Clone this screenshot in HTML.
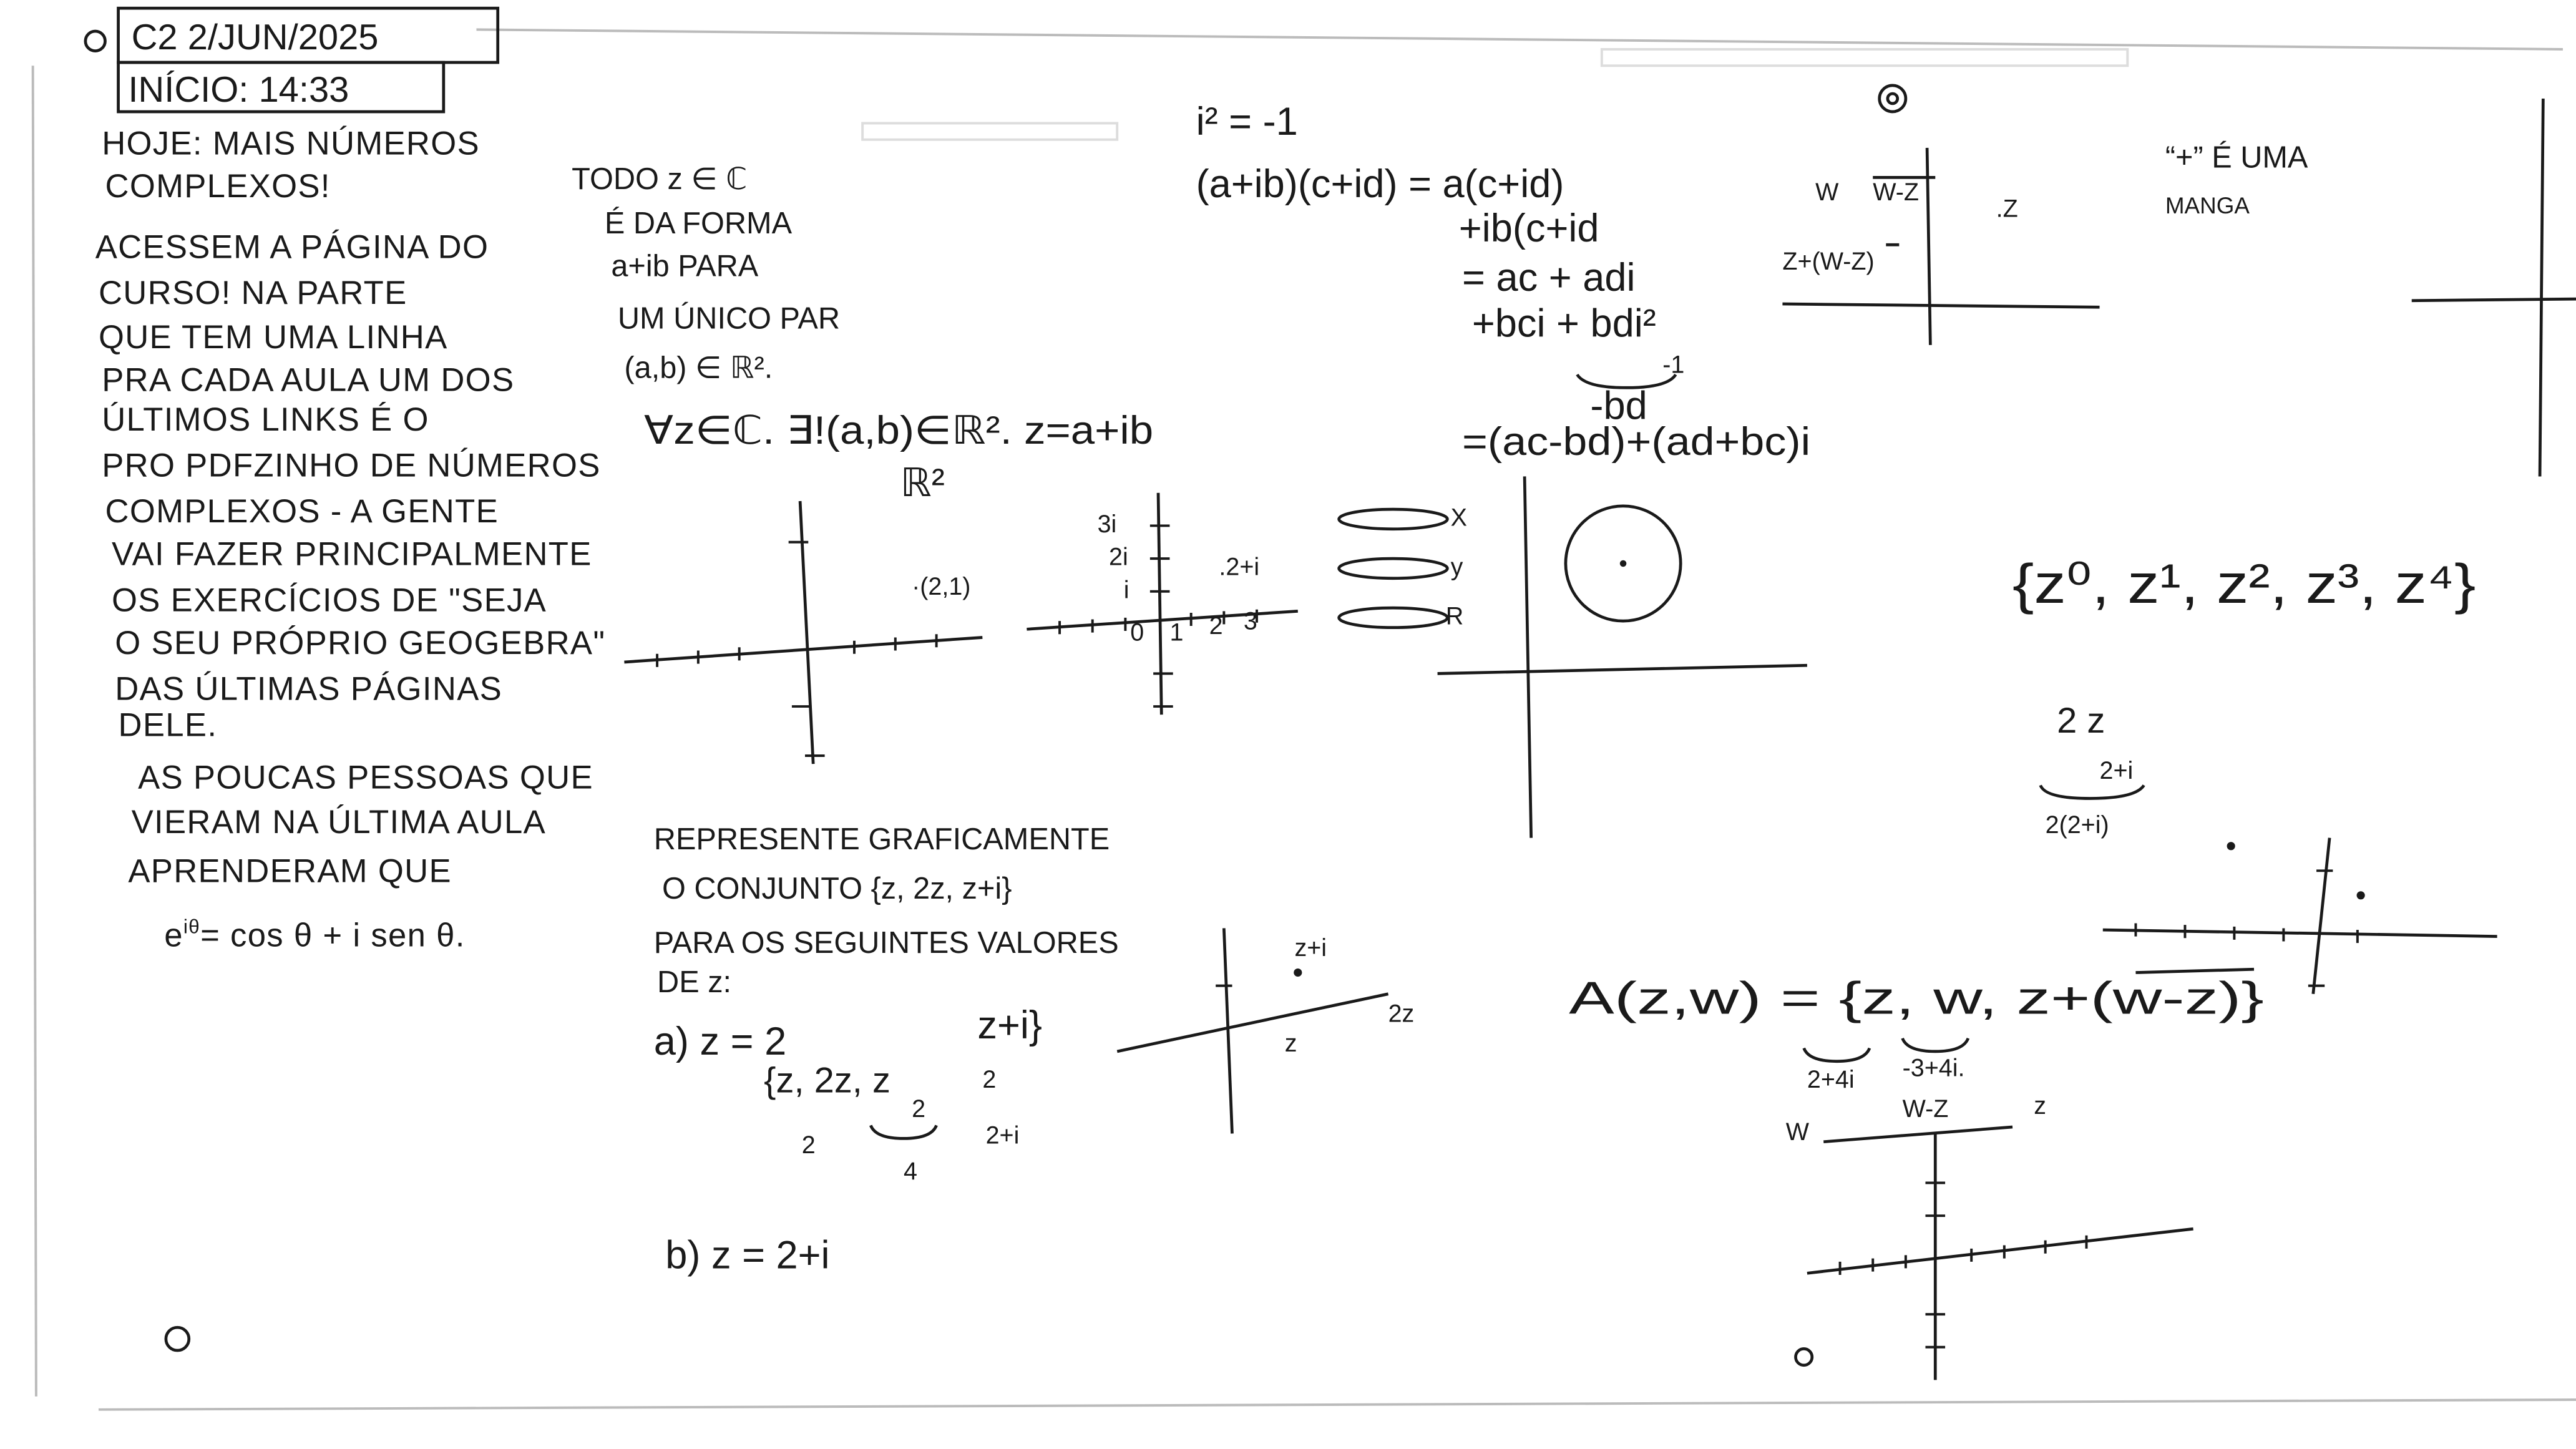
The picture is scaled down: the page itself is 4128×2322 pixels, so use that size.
<!DOCTYPE html>
<html><head><meta charset="utf-8"><style>
html,body{margin:0;padding:0;background:#fff;}
svg{display:block}
text{font-family:"Liberation Sans",sans-serif;fill:#1a1a1a;}
</style></head><body>
<svg width="4128" height="2322" viewBox="0 0 1568 882" xmlns="http://www.w3.org/2000/svg">
<rect width="1568" height="882" fill="#fff"/>
<g stroke="#bbb" stroke-width="1.5" fill="none">
<line x1="290" y1="18" x2="1560" y2="30"/>
<line x1="60" y1="858" x2="1568" y2="852"/>
<line x1="20" y1="40" x2="22" y2="850"/>
<rect x="525" y="75" width="155" height="10" stroke="#ddd"/>
<rect x="975" y="30" width="320" height="10" stroke="#ddd"/>
</g>
<g stroke="#1a1a1a" stroke-width="1.8" fill="none">
<rect x="72" y="5" width="231" height="33"/>
<rect x="72" y="38" width="198" height="30"/>
<circle cx="58" cy="25" r="6"/>
<circle cx="108" cy="815" r="7"/>
<circle cx="1098" cy="826" r="5"/>
<circle cx="1152" cy="60" r="8"/><circle cx="1152" cy="60" r="3"/>
<line x1="380" y1="403" x2="598" y2="388"/><line x1="487" y1="305" x2="495" y2="465"/>
<line x1="625" y1="383" x2="790" y2="372"/><line x1="705" y1="300" x2="707" y2="435"/>
<ellipse cx="848" cy="316" rx="33" ry="6"/><ellipse cx="848" cy="346" rx="33" ry="6"/><ellipse cx="848" cy="376" rx="33" ry="6"/>
<line x1="928" y1="290" x2="932" y2="510"/><line x1="875" y1="410" x2="1100" y2="405"/>
<circle cx="988" cy="343" r="35"/>
<line x1="1173" y1="90" x2="1175" y2="210"/><line x1="1085" y1="185" x2="1278" y2="187"/>
<line x1="1140" y1="108" x2="1178" y2="108"/><line x1="1148" y1="149" x2="1156" y2="149"/>
<line x1="1548" y1="60" x2="1546" y2="290"/><line x1="1468" y1="183" x2="1568" y2="182"/>
<line x1="1280" y1="566" x2="1520" y2="570"/><line x1="1418" y1="510" x2="1408" y2="605"/>
<line x1="680" y1="640" x2="845" y2="605"/><line x1="745" y1="565" x2="750" y2="690"/>
<line x1="1178" y1="690" x2="1178" y2="840"/><line x1="1100" y1="775" x2="1335" y2="748"/>
<line x1="1110" y1="695" x2="1225" y2="686"/>
<line x1="1300" y1="592" x2="1372" y2="590"/>
<path d="M960 228 q5 8 30 8 q25 0 30 -8"/>
<path d="M1242 478 q3 8 30 8 q28 0 33 -8"/>
<path d="M1098 638 q3 8 20 8 q17 0 20 -8"/>
<path d="M1158 632 q3 8 20 8 q17 0 20 -8"/>
<path d="M530 685 q3 8 20 8 q17 0 20 -8"/>
</g>
<g stroke="#1a1a1a" stroke-width="1.5">
<path d="M400 398v8M425 396v8M450 394v8M520 390v8M545 388v8M570 386v8M480 330h12M482 430h12M490 460h12"/>
<path d="M645 378v8M665 377v8M685 376v8M725 373v8M745 372v8M765 371v8M700 320h12M700 340h12M700 360h12M702 410h12M702 430h12"/>
<path d="M1120 768v8M1140 766v8M1160 764v8M1200 760v8M1220 758v8M1245 755v8M1270 752v8M1172 720h12M1172 740h12M1172 800h12M1172 820h12"/>
<path d="M1300 562v8M1330 563v8M1360 564v8M1390 565v8M1435 566v8M1410 530h10M1405 600h10M740 600h10"/>
</g>
<g fill="#1a1a1a"><circle cx="1358" cy="515" r="2.5"/><circle cx="1437" cy="545" r="2.5"/><circle cx="988" cy="343" r="2"/><circle cx="790" cy="592" r="2.5"/></g>
<g font-size="22">
<text x="80" y="30">C2  2/JUN/2025</text>
<text x="78" y="62">INÍCIO: 14:33</text>
</g>
<g font-size="20" letter-spacing="0.5">
<text x="62" y="94">HOJE: MAIS NÚMEROS</text>
<text x="64" y="120">COMPLEXOS!</text>
<text x="58" y="157">ACESSEM A PÁGINA DO</text>
<text x="60" y="185">CURSO!  NA PARTE</text>
<text x="60" y="212">QUE TEM UMA LINHA</text>
<text x="62" y="238">PRA CADA AULA UM DOS</text>
<text x="62" y="262">ÚLTIMOS LINKS É O</text>
<text x="62" y="290">PRO PDFZINHO DE NÚMEROS</text>
<text x="64" y="318">COMPLEXOS - A GENTE</text>
<text x="68" y="344">VAI FAZER PRINCIPALMENTE</text>
<text x="68" y="372">OS EXERCÍCIOS DE "SEJA</text>
<text x="70" y="398">O SEU PRÓPRIO GEOGEBRA"</text>
<text x="70" y="426">DAS ÚLTIMAS PÁGINAS</text>
<text x="72" y="448">DELE.</text>
<text x="84" y="480">AS POUCAS PESSOAS QUE</text>
<text x="80" y="507">VIERAM NA ÚLTIMA AULA</text>
<text x="78" y="537">APRENDERAM QUE</text>
<text x="100" y="576">e<tspan font-size="12" dy="-8">iθ</tspan><tspan dy="8">= cos θ + i sen θ.</tspan></text>
</g>
<g font-size="18.5">
<text x="348" y="115">TODO z ∈ ℂ</text>
<text x="368" y="142">É DA FORMA</text>
<text x="372" y="168">a+ib PARA</text>
<text x="376" y="200">UM ÚNICO PAR</text>
<text x="380" y="230">(a,b) ∈ ℝ².</text>
<text x="398" y="517">REPRESENTE GRAFICAMENTE</text>
<text x="403" y="547">O CONJUNTO {z, 2z, z+i}</text>
<text x="398" y="580">PARA OS SEGUINTES VALORES</text>
<text x="400" y="604">DE z:</text>
<text x="1318" y="102">“+” É UMA</text>
<text x="1318" y="130" font-size="14">MANGA</text>
</g>
<g font-size="24">
<text x="392" y="270" textLength="310" lengthAdjust="spacingAndGlyphs">∀z∈ℂ. ∃!(a,b)∈ℝ². z=a+ib</text>
<text x="548" y="302">ℝ²</text>
<text x="728" y="82">i² = -1</text>
<text x="728" y="120">(a+ib)(c+id) = a(c+id)</text>
<text x="888" y="147">+ib(c+id</text>
<text x="890" y="177">= ac + adi</text>
<text x="896" y="205">+bci + bdi²</text>
<text x="968" y="255">-bd</text>
<text x="890" y="277" textLength="212" lengthAdjust="spacingAndGlyphs">=(ac-bd)+(ad+bc)i</text>
<text x="398" y="642">a)  z = 2</text>
<text x="595" y="632">z+i}</text>
<text x="405" y="772">b) z = 2+i</text>
</g>
<g font-size="15">
<text x="555" y="362">·(2,1)</text>
<text x="668" y="324">3i</text><text x="675" y="344">2i</text><text x="684" y="364">i</text>
<text x="688" y="390">0</text><text x="712" y="390">1</text><text x="736" y="386">2</text><text x="757" y="383">3</text>
<text x="742" y="350">.2+i</text>
<text x="883" y="320">X</text><text x="883" y="350">y</text><text x="880" y="380">R</text>
<text x="1012" y="227">-1</text>
<text x="1105" y="122">W</text><text x="1140" y="122">W-Z</text><text x="1215" y="132">.Z</text>
<text x="1085" y="164">Z+(W-Z)</text>
<text x="788" y="582">z+i</text><text x="782" y="640">z</text><text x="845" y="622">2z</text>
<text x="1100" y="662">2+4i</text><text x="1158" y="655">-3+4i.</text><text x="1158" y="680">W-Z</text>
<text x="1087" y="694">W</text><text x="1238" y="678">z</text>
<text x="1278" y="474">2+i</text><text x="1245" y="507">2(2+i)</text>
<text x="488" y="702">2</text><text x="550" y="718">4</text><text x="598" y="662">2</text><text x="555" y="680">2</text><text x="600" y="696">2+i</text>
</g>
<g font-size="22">
<text x="465" y="665">{z,  2z, z</text>
<text x="1252" y="446">2 z</text>
</g>
<text x="1225" y="367" font-size="34" textLength="282" lengthAdjust="spacingAndGlyphs">{z⁰, z¹, z², z³, z⁴}</text>
<text x="955" y="617" font-size="28" textLength="423" lengthAdjust="spacingAndGlyphs">A(z,w) = {z,  w,   z+(w-z)}</text>
</svg>
</body></html>
